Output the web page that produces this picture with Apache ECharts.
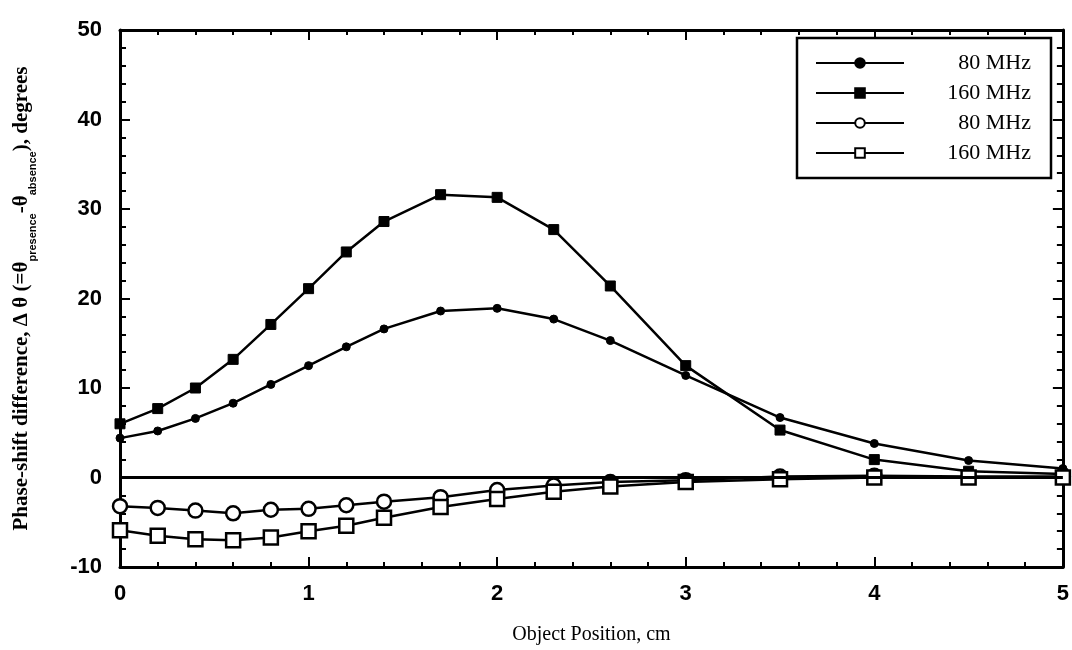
<!DOCTYPE html>
<html>
<head>
<meta charset="utf-8">
<script src="https://cdn.jsdelivr.net/npm/echarts@6/dist/echarts.min.js"></script>
<style>
  html, body { margin: 0; padding: 0; background: #fff; }
  #main { width: 1072px; height: 650px; }
</style>
</head>
<body>
<div id="main"></div>
<script>
// object position, cm
var positions = [0, 0.2, 0.4, 0.6, 0.8, 1.0, 1.2, 1.4, 1.7, 2.0, 2.3, 2.6, 3.0, 3.5, 4.0, 4.5, 5.0]
// phase-shift difference, degrees
var filled80 = [4.4, 5.2, 6.6, 8.3, 10.4, 12.5, 14.6, 16.6, 18.6, 18.9, 17.7, 15.3, 11.4, 6.7, 3.8, 1.9, 1.0]
var filled160 = [6.0, 7.7, 10.0, 13.2, 17.1, 21.1, 25.2, 28.6, 31.6, 31.3, 27.7, 21.4, 12.5, 5.3, 2.0, 0.7, 0.4]
var open80 = [-3.2, -3.4, -3.7, -4.0, -3.6, -3.5, -3.1, -2.7, -2.2, -1.4, -0.9, -0.5, -0.3, 0.1, 0.2, 0.1, 0.1]
var open160 = [-5.9, -6.5, -6.9, -7.0, -6.7, -6.0, -5.4, -4.5, -3.3, -2.4, -1.6, -1.0, -0.5, -0.2, 0.0, 0.0, 0.0]
var seriesNames = ['80 MHz filled', '160 MHz filled', '80 MHz open', '160 MHz open']
var xTicks = [0, 1, 2, 3, 4, 5]
var yTicks = [-10, 0, 10, 20, 30, 40, 50]

function pairs(ys) {
  return ys.map(function(y, i) { return [positions[i], y] })
}

(function(){
  var myChart = echarts.init(document.getElementById('main'))
  var sans = 'Liberation Sans'
  var serif = 'Liberation Serif'

  function xAxis(pos, showLabel) {
    return {
      type: 'value',
      position: pos,
      min: xTicks[0],
      max: xTicks[xTicks.length - 1],
      interval: 1,
      splitLine: { show: false },
      axisLine: { show: true, onZero: false, lineStyle: { color: '#000', width: 3 } },
      axisTick: { show: true, inside: true, length: 10, lineStyle: { color: '#000', width: 2 } },
      minorTick: { show: true, splitNumber: 5, length: 5, lineStyle: { color: '#000', width: 2 } },
      axisLabel: {
        show: showLabel, color: '#000', fontFamily: sans, fontWeight: 'bold', fontSize: 22, margin: 16
      }
    }
  }
  function yAxis(pos, showLabel) {
    return {
      type: 'value',
      position: pos,
      min: yTicks[0],
      max: yTicks[yTicks.length - 1],
      interval: 10,
      splitLine: { show: false },
      axisLine: { show: true, onZero: false, lineStyle: { color: '#000', width: 3 } },
      axisTick: { show: true, inside: true, length: 10, lineStyle: { color: '#000', width: 2 } },
      minorTick: { show: true, splitNumber: 5, length: 6, lineStyle: { color: '#000', width: 2 } },
      axisLabel: {
        show: showLabel, color: '#000', fontFamily: sans, fontWeight: 'bold', fontSize: 22, margin: 18
      }
    }
  }

  var bottomX = xAxis('bottom', true)
  bottomX.name = 'Object Position, cm'
  bottomX.nameLocation = 'middle'
  bottomX.nameGap = 58
  bottomX.nameTextStyle = { color: '#000', fontFamily: serif, fontSize: 20 }

  var leftY = yAxis('left', true)
  leftY.name = '{m|Phase-shift difference, \u0394 \u03b8 (=\u03b8}{s|presence}{m|-\u03b8}{s|absence}{m|), degrees}'
  leftY.nameLocation = 'middle'
  leftY.nameGap = 82
  leftY.nameTextStyle = {
    color: '#000',
    rich: {
      m: { fontFamily: serif, fontWeight: 'bold', fontSize: 21, color: '#000', verticalAlign: 'bottom', padding: [0, 0, 6, 0] },
      s: { fontFamily: sans, fontWeight: 'bold', fontSize: 11, color: '#000', verticalAlign: 'bottom' }
    }
  }

  function line(name, ys, symbol, size, open) {
    return {
      name: name,
      type: 'line',
      data: pairs(ys),
      symbol: symbol,
      symbolSize: size,
      showAllSymbol: true,
      lineStyle: { color: '#000', width: 2.5 },
      itemStyle: open
        ? { color: '#fff', borderColor: '#000', borderWidth: 2.5 }
        : { color: '#000', borderColor: '#000', borderWidth: 1 },
      emphasis: { disabled: true },
      z: open ? 3 : 2
    }
  }

  var series = [
    line(seriesNames[0], filled80, 'circle', 8, false),
    line(seriesNames[1], filled160, 'rect', 10, false),
    line(seriesNames[2], open80, 'circle', 14, true),
    line(seriesNames[3], open160, 'rect', 14, true)
  ]
  series[0].markLine = {
    silent: true,
    symbol: 'none',
    label: { show: false },
    lineStyle: { color: '#000', width: 3, type: 'solid' },
    data: [{ yAxis: 0 }]
  }

  var option = {
    backgroundColor: '#fff',
    animation: false,
    grid: { left: 120, right: 7, top: 30, bottom: 83 },
    legend: {
      orient: 'vertical',
      left: 797,
      top: 38,
      padding: [14, 20, 14, 18],
      backgroundColor: '#fff',
      borderColor: '#000',
      borderWidth: 2.5,
      itemWidth: 88,
      itemHeight: 12,
      itemGap: 8,
      itemStyle: { borderWidth: 2 },
      data: seriesNames,
      formatter: function(name) {
        return '{a|' + name.replace(/ (filled|open)$/, '') + '}'
      },
      textStyle: {
        rich: {
          a: { width: 122, align: 'right', fontFamily: serif, fontSize: 22, lineHeight: 20, color: '#000' }
        }
      }
    },
    xAxis: [bottomX, xAxis('top', false)],
    yAxis: [leftY, yAxis('right', false)],
    series: series
  }
  myChart.setOption(option)
})();
</script>
</body>
</html>
